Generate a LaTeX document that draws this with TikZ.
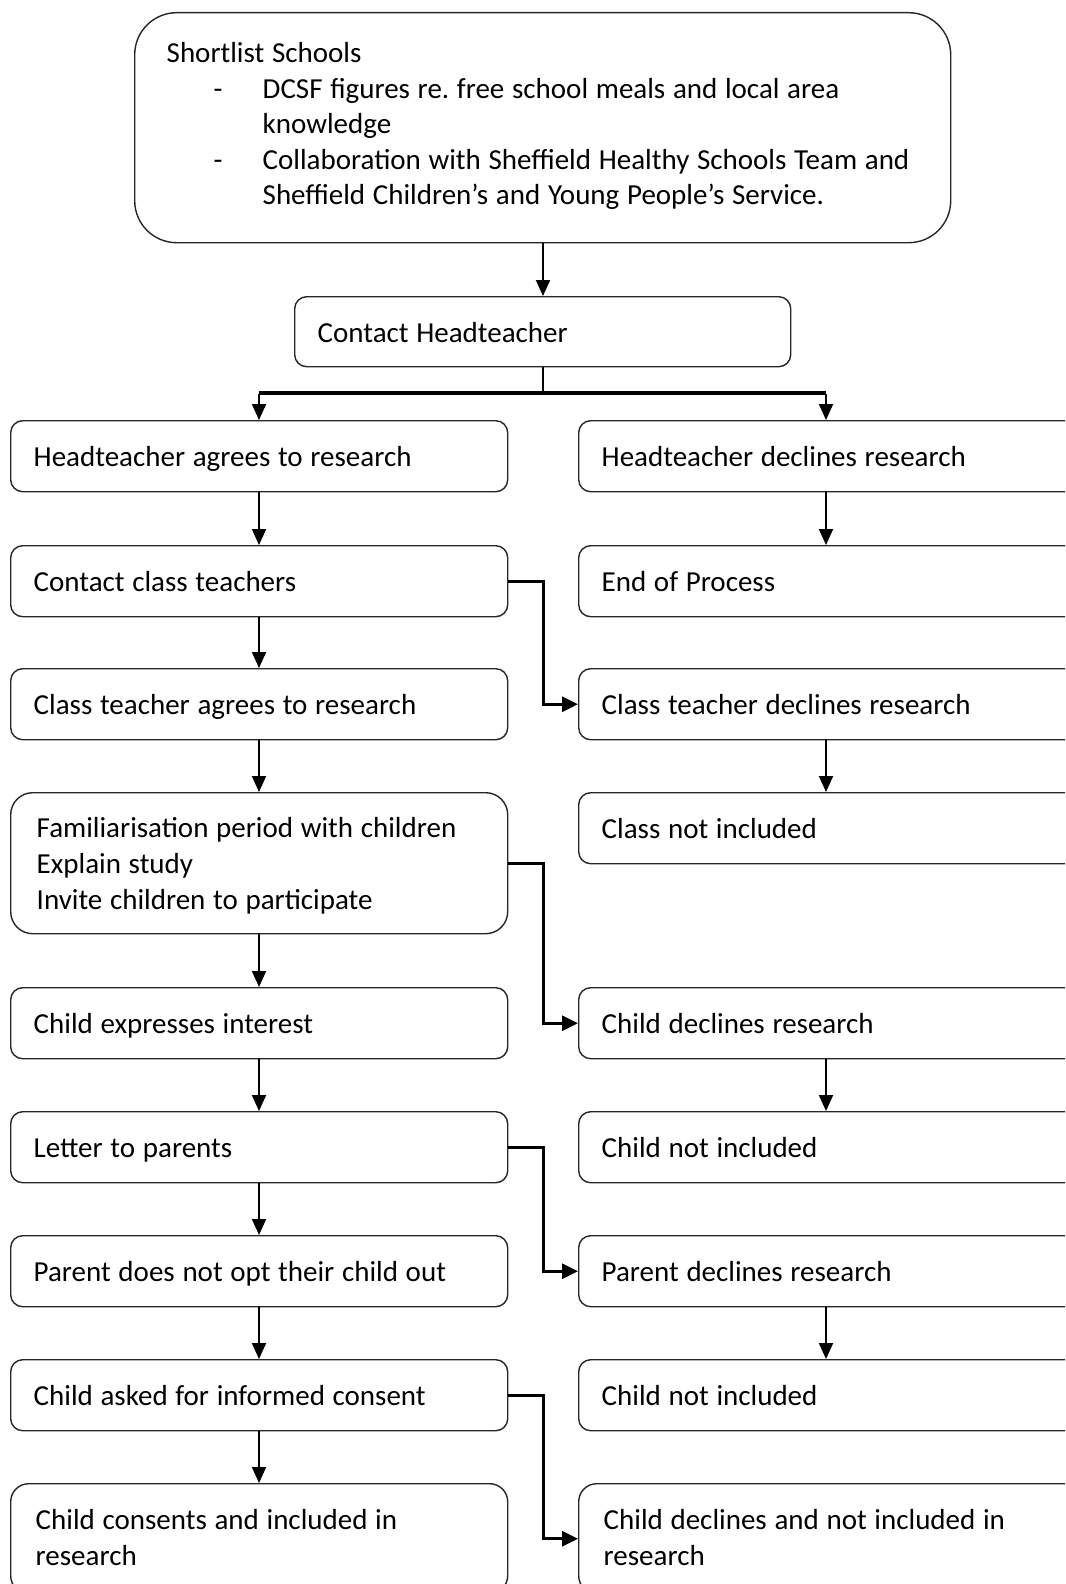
\documentclass[tikz,border=0pt]{standalone}
\usepackage{fontspec}
\setmainfont{Carlito}
\usetikzlibrary{arrows.meta,calc}
\frenchspacing
\newcommand{\boxfont}[1]{\fontsize{29}{#1}\selectfont\spaceskip=7.7pt plus 2pt minus 1pt\relax}
\begin{document}
\begin{tikzpicture}[x=1pt,y=-1pt,
  box/.style={draw=black!85,line width=1.4pt,rounded corners=12pt,anchor=north west,
    minimum height=71pt,text width=#1,align=flush left,inner xsep=23pt,inner ysep=0pt,
    font=\boxfont{36}},
  box/.default=451pt,
  sbox/.style={box=#1,text height=23pt,text depth=1.5pt},
  sbox/.default=451pt,
  flow/.style={-{Triangle[length=16pt,width=14pt]},line width=2pt},
  elbow/.style={-{Triangle[length=16pt,width=15pt]},line width=3pt},
]
\useasboundingbox (0,0) rectangle (1065,1584);
\clip (0,0) rectangle (1065,1584);
\fill[white] (0,0) rectangle (1065,1584);

% column reference coordinates
\coordinate (lx) at (259,0);
\coordinate (rx) at (826,0);
\coordinate (mx) at (543,0);

% top box
\node[box=752pt,rounded corners=42pt,inner xsep=32pt,minimum height=230pt,
      font=\boxfont{35.5}] (top) at (134,12)
 {\rule{0pt}{23pt}Shortlist Schools\\
  \mbox{\hspace*{47pt}\makebox[49pt][l]{-}DCSF figures re. free school meals and local area}\\
  \mbox{\hspace*{96pt}knowledge}\\
  \mbox{\hspace*{47pt}\makebox[49pt][l]{-}Collaboration with Sheffield Healthy Schools Team and}\\
  \mbox{\hspace*{96pt}Sheffield Children’s and Young People’s Service.}\strut};

\node[sbox=450pt,minimum height=70pt] (ch) at (294,296) {Contact Headteacher};

% left column
\node[sbox] (l1) at (10,420) {Headteacher agrees to research};
\node[sbox] (l2) at (10,545) {Contact class teachers};
\node[sbox] (l3) at (10,668) {Class teacher agrees to research};
\node[box=445pt,inner xsep=26pt,rounded corners=22pt,minimum height=141pt] (l4) at (10,792)
 {\rule{0pt}{31pt}Familiarisation period with children\\Explain study\\Invite children to participate\strut};
\node[sbox] (l5) at (10,987) {Child expresses interest};
\node[sbox] (l6) at (10,1111) {Letter to parents};
\node[sbox] (l7) at (10,1235) {Parent does not opt their child out};
\node[sbox] (l8) at (10,1359) {Child asked for informed consent};
\node[box=447pt,inner xsep=25pt,rounded corners=18pt,minimum height=110pt,
      font=\boxfont{36.5}] (l9) at (10,1483)
 {\rule{0pt}{29pt}Child consents and included in\\research\strut};

% right column
\node[sbox=494pt] (r1) at (578,420) {Headteacher declines research};
\node[sbox=494pt] (r2) at (578,545) {End of Process};
\node[sbox=494pt] (r3) at (578,668) {Class teacher declines research};
\node[sbox=494pt] (r4) at (578,792) {Class not included};
\node[sbox=494pt] (r5) at (578,987) {Child declines research};
\node[sbox=494pt] (r6) at (578,1111) {Child not included};
\node[sbox=494pt] (r7) at (578,1235) {Parent declines research};
\node[sbox=494pt] (r8) at (578,1359) {Child not included};
\node[box=490pt,inner xsep=25pt,rounded corners=18pt,minimum height=110pt,
      font=\boxfont{36.5}] (r9) at (578,1483)
 {\rule{0pt}{29pt}Child declines and not included in\\research\strut};

% top connectors
\draw[flow] (top.south -| mx) -- (ch.north -| mx);
\coordinate (br) at (543,393);
\draw[line width=2pt] (ch.south -| mx) -- (br);
\draw[line width=4pt] (br -| lx) -- (br -| rx);
\draw[flow] ([yshift=-1pt]br -| lx) -- (l1.north -| lx);
\draw[flow] ([yshift=-1pt]br -| rx) -- (r1.north -| rx);

% left column connectors
\foreach \a/\b in {l1/l2,l2/l3,l3/l4,l4/l5,l5/l6,l6/l7,l7/l8,l8/l9}
  \draw[flow] (\a.south -| lx) -- (\b.north -| lx);

% right column connectors
\foreach \a/\b in {r1/r2,r3/r4,r5/r6,r7/r8}
  \draw[flow] (\a.south -| rx) -- (\b.north -| rx);

% elbow connectors
\draw[elbow] (l2.east) -- (l2.east -| mx) |- (r3.west);
\draw[elbow] (l4.east) -- (l4.east -| mx) |- (r5.west);
\draw[elbow] (l6.east) -- (l6.east -| mx) |- (r7.west);
\draw[elbow] (l8.east) -- (l8.east -| mx) |- (r9.west);
\end{tikzpicture}
\end{document}
